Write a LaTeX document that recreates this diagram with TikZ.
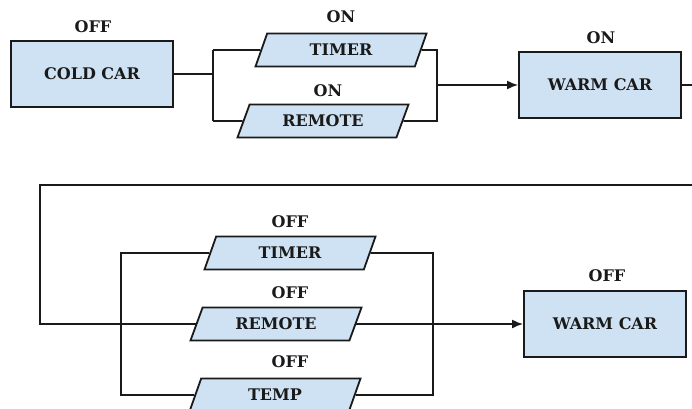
\documentclass[tikz,border=0pt]{standalone}
\usepackage{fontspec}
\setmainfont{DejaVu Serif}
\usetikzlibrary{shapes.geometric,arrows.meta,backgrounds}
\definecolor{boxfill}{HTML}{CFE2F3}
\definecolor{ink}{HTML}{1A1A1A}
\begin{document}
\begin{tikzpicture}[x=1pt,y=-1pt,
  txt/.style={font=\fontsize{16}{19}\selectfont\bfseries, text=ink},
  carbox/.style={txt, draw=ink, fill=boxfill, line width=1.8pt, minimum width=162pt, minimum height=66pt, inner sep=0pt},
  para/.style={txt, trapezium, trapezium left angle=45, trapezium right angle=135, draw=ink, fill=boxfill, line width=1.8pt, minimum width=171pt, minimum height=33pt, inner sep=0pt, trapezium stretches body=true},
  lbl/.style={txt, inner sep=0pt},
  wire/.style={draw=ink, line width=1.8pt},
  arr/.style={wire, -{Latex[length=11pt,width=9pt]}}
]
\useasboundingbox (0,0) rectangle (692,408);
% top row
\node[carbox] (coldcar) at (92,74) {COLD CAR};
\node[lbl] (offA) at (93,27) {OFF};
\node[para] (timerA) at (341,50) {TIMER};
\node[lbl] (onT) at (341,17) {ON};
\node[para] (remoteA) at (323,121) {REMOTE};
\node[lbl] (onR) at (328,91) {ON};
\node[carbox] (warmA) at (600,85) {WARM CAR};
\node[lbl] (onW) at (601,38) {ON};
% bottom row
\node[para] (timerB) at (290,253) {TIMER};
\node[lbl] (offT) at (290,222) {OFF};
\node[para] (remoteB) at (276,324) {REMOTE};
\node[lbl] (offR) at (290,293) {OFF};
\node[para] (tempB) at (275,395) {TEMP};
\node[lbl] (offP) at (290,362) {OFF};
\node[carbox] (warmB) at (605,324) {WARM CAR};
\node[lbl] (offW) at (607,276) {OFF};
% junctions
\coordinate (jL) at (213,74);
\coordinate (jR) at (437,85);
\coordinate (exitA) at (692,85);
\coordinate (topR) at (692,185);
\coordinate (topL) at (40,185);
\coordinate (bL) at (121,253);
\coordinate (bR) at (433,253);
\begin{scope}[on background layer]
\draw[wire] (coldcar) -- (jL);
\draw[wire] (jL |- timerA) -- (jL |- remoteA);
\draw[wire] (jL |- timerA) -- (timerA);
\draw[wire] (jL |- remoteA) -- (remoteA);
\draw[wire] (timerA) -- (jR |- timerA) -- (jR |- remoteA) -- (remoteA);
\draw[arr] (jR) -- (warmA);
\draw[wire] (warmA) -- (exitA);
\draw[arr] (topR) -- (topL) -- (topL |- warmB) -- (warmB);
\draw[wire] (timerB) -- (bL) -- (bL |- tempB) -- (tempB);
\draw[wire] (timerB) -- (bR) -- (bR |- tempB) -- (tempB);
\end{scope}
\end{tikzpicture}
\end{document}
